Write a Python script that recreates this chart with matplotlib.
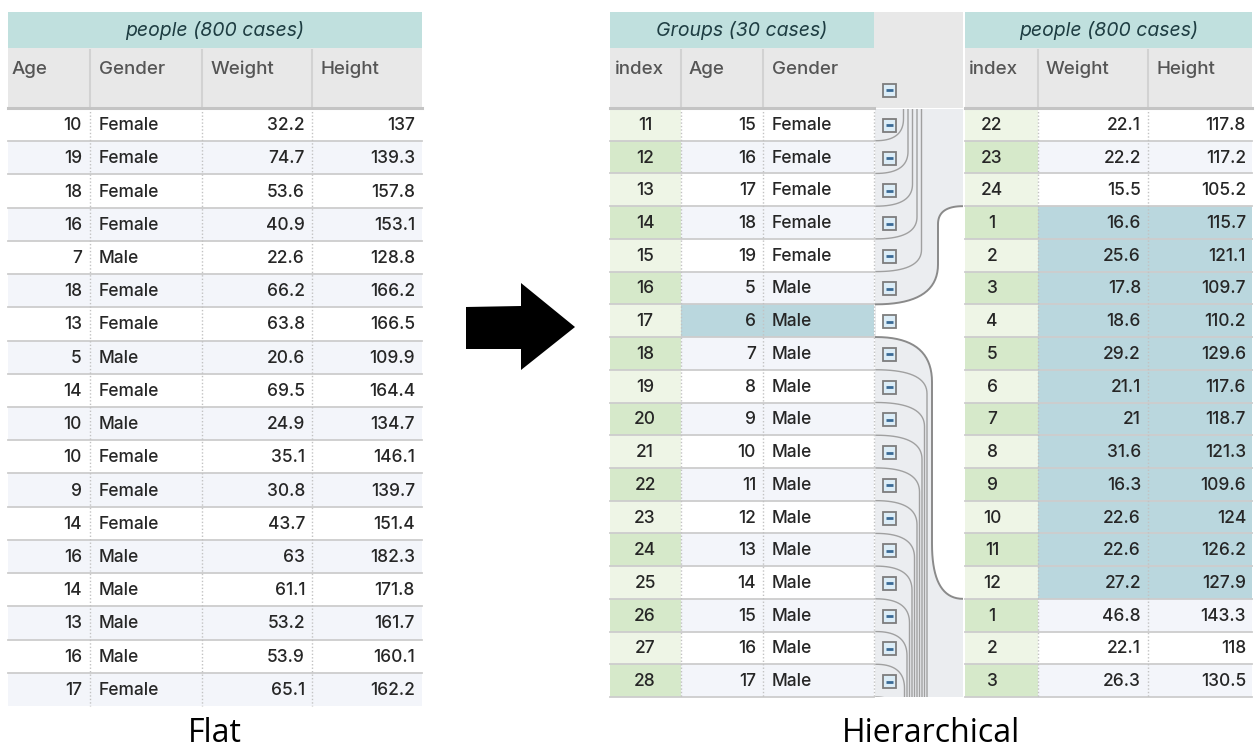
import numpy as np
import matplotlib
matplotlib.use("Agg")
import matplotlib.pyplot as plt
from matplotlib.patches import Rectangle, Polygon

plt.rcParams['font.family'] = ['Inter', 'DejaVu Sans']

# flat table
flat_cols = ["Age", "Gender", "Weight", "Height"]
flat_age = [10, 19, 18, 16, 7, 18, 13, 5, 14, 10, 10, 9, 14, 16, 14, 13, 16, 17]
flat_gender = ["Female", "Female", "Female", "Female", "Male", "Female", "Female", "Male", "Female",
               "Male", "Female", "Female", "Female", "Male", "Male", "Male", "Male", "Female"]
flat_weight = [32.2, 74.7, 53.6, 40.9, 22.6, 66.2, 63.8, 20.6, 69.5, 24.9, 35.1, 30.8, 43.7, 63, 61.1, 53.2, 53.9, 65.1]
flat_height = [137, 139.3, 157.8, 153.1, 128.8, 166.2, 166.5, 109.9, 164.4, 134.7, 146.1, 139.7, 151.4, 182.3,
               171.8, 161.7, 160.1, 162.2]

# hierarchical: parent (groups) table
grp_cols = ["index", "Age", "Gender"]
grp_index = list(range(11, 29))
grp_age = [15, 16, 17, 18, 19, 5, 6, 7, 8, 9, 10, 11, 12, 13, 14, 15, 16, 17]
grp_gender = ["Female"] * 5 + ["Male"] * 13
grp_selected = 17

# hierarchical: child (people) table
child_cols = ["index", "Weight", "Height"]
child_index = [22, 23, 24, 1, 2, 3, 4, 5, 6, 7, 8, 9, 10, 11, 12, 1, 2, 3]
child_weight = [22.1, 22.2, 15.5, 16.6, 25.6, 17.8, 18.6, 29.2, 21.1, 21, 31.6, 16.3, 22.6, 22.6, 27.2, 46.8, 22.1, 26.3]
child_height = [117.8, 117.2, 105.2, 115.7, 121.1, 109.7, 110.2, 129.6, 117.6, 118.7, 121.3, 109.6, 124, 126.2,
                127.9, 143.3, 118, 130.5]

TITLE_BG = "#c0e0de"
HEAD_BG = "#e8e8e8"
ALT_BG = "#f3f5fa"
GREEN_L = "#eef5e6"
GREEN_D = "#d6e9ca"
SEL_BG = "#bad7de"
GAP_BG = "#ebedf0"
TXT = "#262626"
FS = 12.5
FW = "medium"

fig = plt.figure(figsize=(12.56, 7.52), dpi=100)
ax = fig.add_axes([0, 0, 1, 1])
ax.set_xlim(0, 1256)
ax.set_ylim(752, 0)
ax.axis("off")

TOP, HEAD, BODY = 12, 48, 108


def fmt(v):
    return f"{v:g}" if not isinstance(v, str) else v


def cell(x, y, s, ha):
    ax.text(x, y, fmt(s), ha=ha, va="center", fontsize=FS, fontweight=FW, color=TXT)


def header(x0, x1, edges, title, names, name_x):
    ax.add_patch(Rectangle((x0, TOP), x1 - x0, HEAD - TOP, color=TITLE_BG, lw=0))
    ax.add_patch(Rectangle((x0, HEAD), x1 - x0, BODY - HEAD, color=HEAD_BG, lw=0))
    ax.text((x0 + x1) / 2, 30, title, ha="center", va="center", fontsize=14,
            style="italic", color="#1e3d42")
    for e in edges:
        ax.plot([e, e], [HEAD + 2, BODY], color="#d2d2d2", lw=1.5)
    for n, nx in zip(names, name_x):
        ax.text(nx, 69, n, ha="left", va="center", fontsize=13.5, fontweight=FW, color="#555555")


def body_lines(x0, x1, edges, nrows, rh, bottom_line=True):
    for i in range(nrows + 1):
        y = BODY + i * rh
        if i == 0:
            ax.plot([x0, x1], [y, y], color="#c4c4c4", lw=2.2)
        elif i < nrows or bottom_line:
            ax.plot([x0, x1], [y, y], color="#cdcdcd", lw=1.3)
    for e in edges:
        ax.plot([e, e], [BODY, BODY + nrows * rh], color="#c2c2c2", lw=1, ls=(0, (1, 1.5)))


# ---------------- flat table ----------------
fx0, fx1 = 8, 422
fedges = [90, 202, 312]
frh = (706 - BODY) / len(flat_age)
header(fx0, fx1, fedges, "people (800 cases)", flat_cols, [12, 99, 211, 321])
for i in range(len(flat_age)):
    y = BODY + i * frh
    if i % 2 == 1:
        ax.add_patch(Rectangle((fx0, y), fx1 - fx0, frh, color=ALT_BG, lw=0))
    yc = y + frh / 2 + 1
    cell(82, yc, flat_age[i], "right")
    cell(99, yc, flat_gender[i], "left")
    cell(305, yc, flat_weight[i], "right")
    cell(415, yc, flat_height[i], "right")
body_lines(fx0, fx1, fedges, len(flat_age), frh, bottom_line=False)

# ---------------- arrow ----------------
ax.add_patch(Polygon([(466, 307), (521, 306), (521, 283), (575, 327), (521, 370), (521, 349), (466, 349)],
                     closed=True, color="black", lw=0))

# ---------------- groups table ----------------
gx0, gx1 = 610, 874
gedges = [681, 763]
rh = (697 - BODY) / len(grp_index)
header(gx0, gx1, gedges, "Groups (30 cases)", grp_cols, [615, 689, 772])
for i in range(len(grp_index)):
    y = BODY + i * rh
    ax.add_patch(Rectangle((gx0, y), 681 - gx0, rh, color=GREEN_D if i % 2 else GREEN_L, lw=0))
    if grp_index[i] == grp_selected:
        ax.add_patch(Rectangle((681, y), gx1 - 681, rh, color=SEL_BG, lw=0))
    elif i % 2:
        ax.add_patch(Rectangle((681, y), gx1 - 681, rh, color=ALT_BG, lw=0))
    yc = y + rh / 2 + 1
    cell(645, yc, grp_index[i], "center")
    cell(756, yc, grp_age[i], "right")
    cell(772, yc, grp_gender[i], "left")
body_lines(gx0, gx1, gedges + [gx1], len(grp_index), rh)

# ---------------- child table ----------------
cx0, cx1 = 965, 1252
cedges = [1038, 1148]
header(cx0, cx1, cedges, "people (800 cases)", child_cols, [969, 1046, 1157])
sel_pos = grp_index.index(grp_selected)
# child rows of each group: split where index restarts at 1
starts = [i for i in range(len(child_index)) if child_index[i] == 1]
sel_rows = range(starts[0], starts[1])
for i in range(len(child_index)):
    y = BODY + i * rh
    ax.add_patch(Rectangle((cx0, y), 1038 - cx0, rh, color=GREEN_D if i % 2 else GREEN_L, lw=0))
    if i in sel_rows:
        ax.add_patch(Rectangle((1038, y), cx1 - 1038, rh, color=SEL_BG, lw=0))
    elif i % 2:
        ax.add_patch(Rectangle((1038, y), cx1 - 1038, rh, color=ALT_BG, lw=0))
    yc = y + rh / 2 + 1
    cell(992, yc, child_index[i], "center")
    cell(1141, yc, child_weight[i], "right")
    cell(1246, yc, child_height[i], "right")
body_lines(cx0, cx1, cedges, len(child_index), rh)

# ---------------- connector column ----------------
ax.add_patch(Rectangle((874, TOP), 963 - 874, BODY - TOP, color=HEAD_BG, lw=0))
clip = Rectangle((874.5, BODY + 1), 963 - 874.5, 697 - BODY - 1, transform=ax.transData)
ax.add_patch(Rectangle((874.5, BODY + 1), 963 - 874.5, 697 - BODY - 1, color=GAP_BG, lw=0))


def quad(p0, c, p1, n=20):
    t = np.linspace(0, 1, n)[:, None]
    return (1 - t) ** 2 * np.array(p0) + 2 * (1 - t) * t * np.array(c) + t ** 2 * np.array(p1)


def link(yl, yr, xv, rl, rr):
    s = np.sign(yr - yl)
    a = quad((876, yl), (xv, yl), (xv, yl + s * rl))
    b = quad((xv, yr - s * rr), (xv, yr), (963, yr))
    return np.vstack([a, b])


yb = [BODY + k * rh for k in range(len(grp_index) + 1)]
y_top_link = BODY + starts[0] * rh
y_bot_link = BODY + starts[1] * rh
lines = []
for k in range(sel_pos):
    lines.append((link(yb[k], -200, 899 + 4.5 * k, 22, 20), "#a0a0a0", 1.0))
upper = link(yb[sel_pos], y_top_link, 938, 40, 18)
lower = link(yb[sel_pos + 1], y_bot_link, 932, 45, 55)
for j, k in enumerate(range(sel_pos + 2, len(grp_index) + 1)):
    lines.append((link(yb[k], 1000, 927 - 2.5 * j, 24, 20), "#a0a0a0", 1.0))

sel_poly = np.vstack([upper, lower[::-1]])
wp = ax.add_patch(Polygon(sel_poly, closed=True, color="white", lw=0))
wp.set_clip_path(clip)
for pts, col, lw in lines + [(upper, "#8a8a8a", 1.4), (lower, "#8a8a8a", 1.4)]:
    ln, = ax.plot(pts[:, 0], pts[:, 1], color=col, lw=lw)
    ln.set_clip_path(clip)


def icon(yc):
    ax.add_patch(Rectangle((882.5, yc - 6.5), 13, 13, facecolor="#dcedf7", edgecolor="#7d7d7d", lw=1.3))
    ax.plot([885.5, 892.5], [yc, yc], color="#3a6a96", lw=2, solid_capstyle="butt")


icon(90)
for i in range(len(grp_index)):
    icon(BODY + i * rh + rh / 2 + 1)

# ---------------- captions ----------------
ax.text(215, 734, "Flat", ha="center", va="center", fontsize=23, family="Open Sans", color="black")
ax.text(931, 734, "Hierarchical", ha="center", va="center", fontsize=23, family="Open Sans", color="black")

fig.savefig("out.png", dpi=100)
